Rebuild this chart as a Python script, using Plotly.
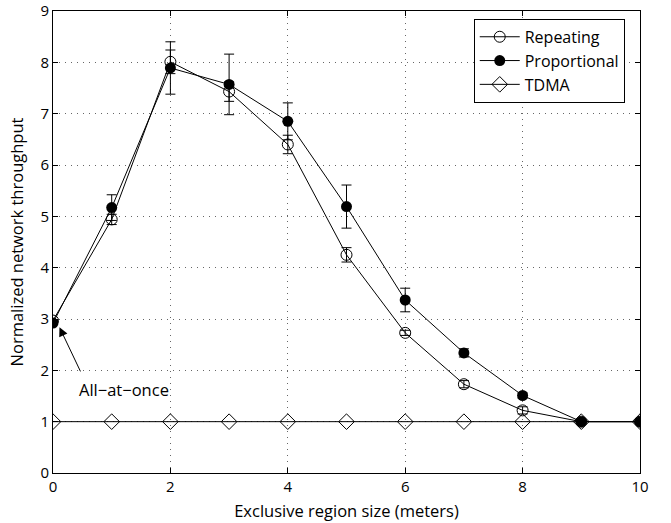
import plotly.graph_objects as go

x_vals = [0, 1, 2, 3, 4, 5, 6, 7, 8, 9, 10]
x_tdma = [0, 1, 2, 3, 4, 5, 6, 7, 8, 9, 10]

repeating = [2.97, 4.94, 8.01, 7.43, 6.40, 4.25, 2.73, 1.73, 1.22, 1.0, 1.0]
repeating_err = [0.0, 0.10, 0.23, 0.19, 0.18, 0.14, 0.05, 0.07, 0.07, 0.0, 0.0]

proportional = [2.92, 5.17, 7.89, 7.57, 6.85, 5.19, 3.37, 2.34, 1.51, 1.0, 1.0]
proportional_err = [0.0, 0.25, 0.51, 0.59, 0.36, 0.42, 0.23, 0.08, 0.05, 0.0, 0.0]

tdma = [1, 1, 1, 1, 1, 1, 1, 1, 1, 1, 1]

x_ticks = [0, 2, 4, 6, 8, 10]
y_ticks = [0, 1, 2, 3, 4, 5, 6, 7, 8, 9]

FONT = "Open Sans"

fig = go.Figure()

fig.add_trace(go.Scatter(
    x=x_vals, y=repeating, name="Repeating", mode="lines+markers",
    line=dict(color="black", width=1),
    marker=dict(symbol="circle-open", size=11, color="black", line=dict(width=1)),
    error_y=dict(type="data", array=repeating_err, color="black", thickness=1, width=5),
))
fig.add_trace(go.Scatter(
    x=x_vals, y=proportional, name="Proportional", mode="lines+markers",
    line=dict(color="black", width=1),
    marker=dict(symbol="circle", size=11, color="black"),
    error_y=dict(type="data", array=proportional_err, color="black", thickness=1, width=5),
))
fig.add_trace(go.Scatter(
    x=x_tdma, y=tdma, name="TDMA", mode="lines+markers",
    line=dict(color="black", width=1),
    marker=dict(symbol="diamond-open", size=12, color="black", line=dict(width=1)),
))

fig.add_annotation(
    x=0.11, y=2.84, ax=0.48, ay=1.95, xref="x", yref="y", axref="x", ayref="y",
    text="", showarrow=True, arrowhead=2, arrowsize=1.8, arrowwidth=1, arrowcolor="black",
)
fig.add_annotation(
    x=1.21, y=1.63, xref="x", yref="y", text="All\u2212at\u2212once", showarrow=False,
    font=dict(family=FONT, size=16.5, color="black"),
)

axis_common = dict(
    showline=True, linecolor="black", linewidth=1, mirror="ticks",
    ticks="inside", ticklen=5, tickcolor="black",
    showgrid=True, gridcolor="#666666", griddash="1px,5px", gridwidth=1,
    zeroline=False, automargin=False, ticklabeloverflow="allow",
    tickfont=dict(family=FONT, size=15, color="black"),
)

fig.update_xaxes(
    range=[0, 10], tickvals=x_ticks, **axis_common,
    title=dict(text="Exclusive region size (meters)", font=dict(family=FONT, size=16.5, color="black"), standoff=10),
)
fig.update_yaxes(
    range=[0, 9], tickvals=y_ticks, **axis_common,
    title=dict(text="Normalized network throughput", font=dict(family=FONT, size=16.5, color="black"), standoff=12),
)

fig.update_layout(
    width=671, height=523,
    margin=dict(l=53, r=31, t=11, b=50),
    plot_bgcolor="white", paper_bgcolor="white",
    font=dict(family=FONT, size=15, color="black"),
    legend=dict(
        x=0.974, y=0.983, xanchor="right", yanchor="top",
        bgcolor="white", bordercolor="black", borderwidth=1,
        font=dict(family=FONT, size=16, color="black"),
        tracegroupgap=0, itemwidth=40,
    ),
)

fig.write_html(
    "out.html",
    config={"displayModeBar": False},
    post_script="document.body.style.margin='0';document.body.style.padding='0';",
)
